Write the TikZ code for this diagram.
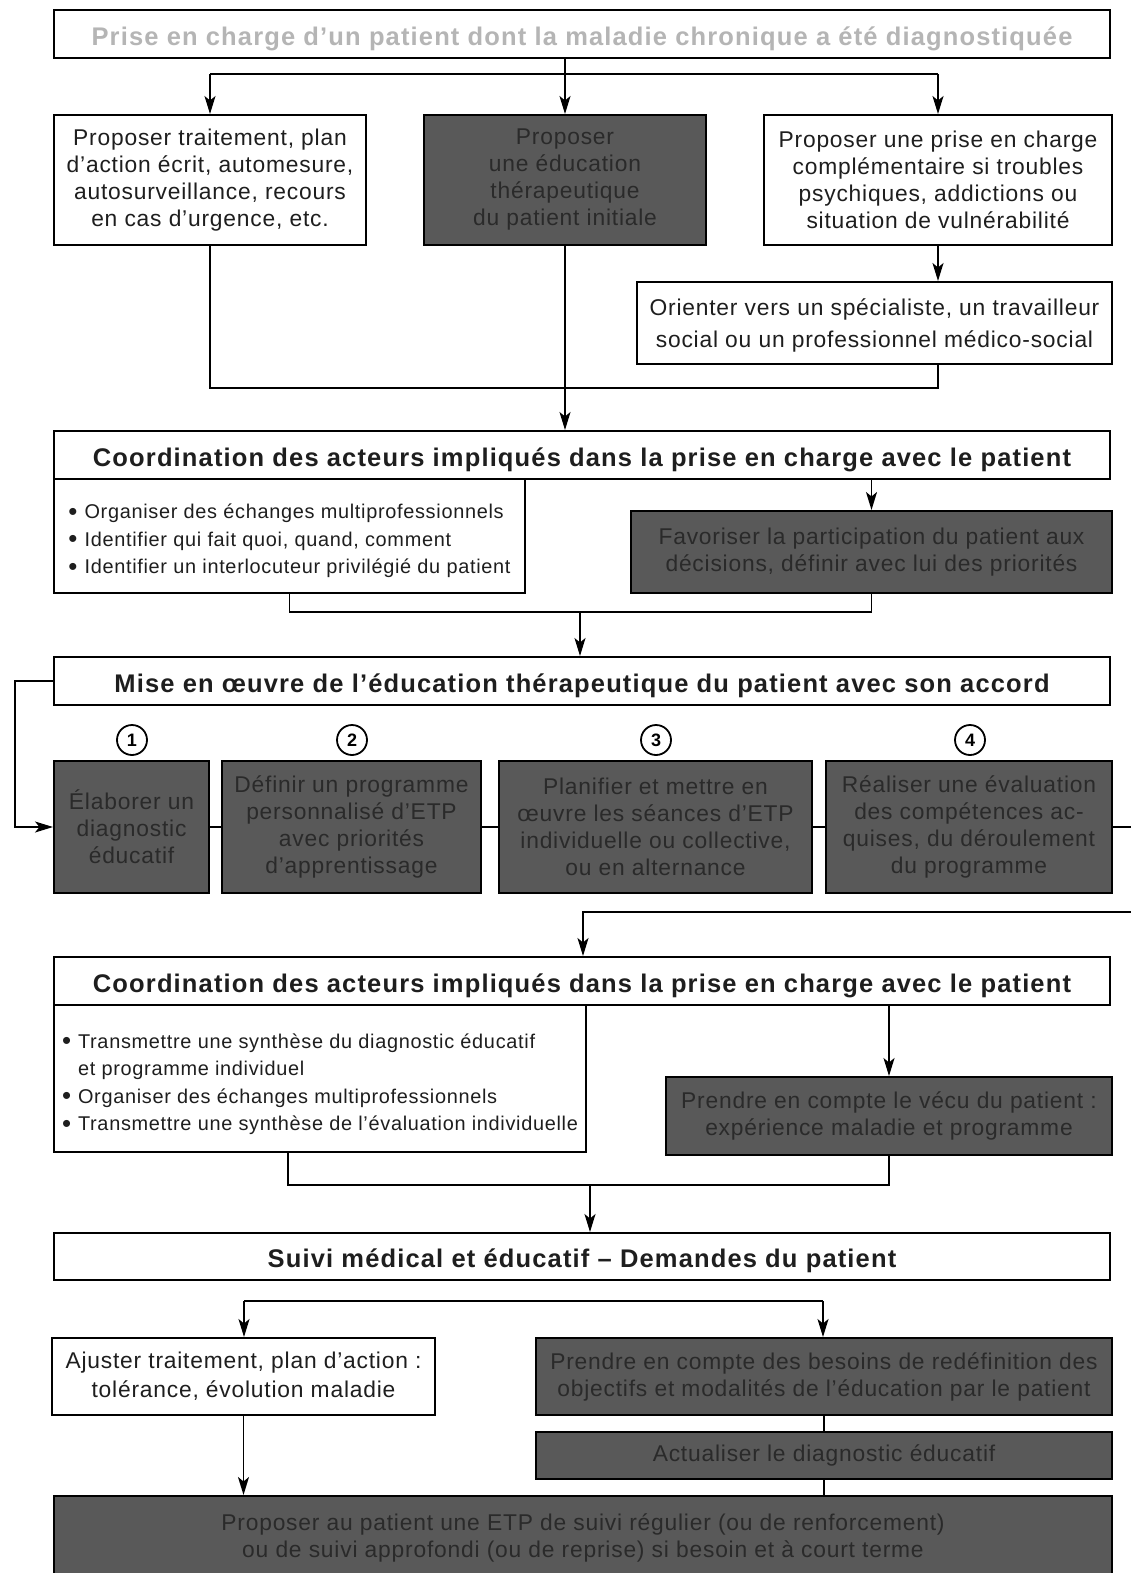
\documentclass[tikz,border=0pt]{standalone}
\usepackage{fontspec}
\setmainfont{Liberation Sans}[LetterSpace=3.5]
\newfontfamily\headf{Liberation Sans}[LetterSpace=4.5]
\newfontfamily\bulf{Liberation Sans}[LetterSpace=3.5]
\usetikzlibrary{arrows.meta,calc}
\definecolor{darkfill}{HTML}{595959}
\definecolor{darktext}{HTML}{2A2A2A}
\definecolor{headgray}{HTML}{B5B5B5}
\definecolor{ink}{HTML}{1E1E1E}
\newcommand\bulmark{\raisebox{-0.09em}{\scalebox{1.3}{\textbullet}}\hspace{7pt}}
\tikzset{
  box/.style={draw=black, line width=2pt, inner sep=0pt, align=center,
    font=\fontsize{22.8}{27}\selectfont, text=ink},
  wbox/.style={box, fill=white},
  dbox/.style={box, fill=darkfill, text=darktext},
  hbox/.style={box, fill=white, font=\headf\fontsize{25.5}{27}\selectfont\bfseries,
    text height=27.5pt, text depth=5pt},
  lbox/.style={box, fill=white, align=left, font=\bulf\fontsize{19.9}{27.5}\selectfont},
  conn/.style={line width=1.7pt},
  arr/.style={conn, -{Stealth[length=18pt,width=11pt,inset=4.5pt]}},
  num/.style={circle, draw, fill=white, line width=1.8pt, minimum size=30pt, inner sep=0pt,
    font=\fontsize{18}{18}\selectfont\bfseries}
}
\begin{document}
\begin{tikzpicture}[x=1pt,y=-1pt]
\fill[white] (0,0) rectangle (1131,1573);
\useasboundingbox (0,0) rectangle (1131,1573);

% ---- top section
\node[hbox, text=headgray, minimum width=1056pt, minimum height=48pt] (head) at (582,34)
  {Prise en charge d’un patient dont la maladie chronique a été diagnostiquée};
\node[wbox, minimum width=312pt, minimum height=130pt] (boxA) at (210,180)
  {Proposer traitement, plan\\d’action écrit, automesure,\\autosurveillance, recours\\en cas d’urgence, etc.};
\node[dbox, minimum width=282pt, minimum height=130pt] (boxB) at (565,180)
  {Proposer\\une éducation\\thérapeutique\\du patient initiale};
\node[wbox, minimum width=348pt, minimum height=130pt] (boxC) at (938,180)
  {Proposer une prise en charge\\complémentaire si troubles\\psychiques, addictions ou\\situation de vulnérabilité};
\node[wbox, minimum width=475pt, minimum height=82pt] (orient) at (874.5,323)
  {\rule{0pt}{22pt}Orienter vers un spécialiste, un travailleur\\[5pt]social ou un professionnel médico-social};

\coordinate (j1) at (565,74);
\draw[conn] (boxB.north |- head.south) -- (j1);
\draw[conn] (j1 -| boxA.north) -- (j1 -| boxC.north);
\draw[arr] (j1 -| boxA.north) -- (boxA.north);
\draw[arr] (j1) -- (boxB.north);
\draw[arr] (j1 -| boxC.north) -- (boxC.north);
\draw[arr] (boxC.south) -- (boxC.south |- orient.north);

% ---- first coordination
\node[hbox, minimum width=1056pt, minimum height=48pt] (coord1) at (582,455)
  {Coordination des acteurs impliqués dans la prise en charge avec le patient};
\node[lbox, minimum width=471pt, minimum height=114pt, text height=80pt, text depth=5pt] (bul1) at (289.5,536)
  {\bulmark Organiser des échanges multiprofessionnels\\
   \bulmark Identifier qui fait quoi, quand, comment\\
   \bulmark Identifier un interlocuteur privilégié du patient};
\node[dbox, minimum width=481pt, minimum height=82pt] (fav) at (871.5,552)
  {Favoriser la participation du patient aux\\décisions, définir avec lui des priorités};

\coordinate (j2) at (565,388);
\draw[conn] (boxA.south) |- (j2 -| boxC.south) -- (boxC.south |- orient.south);
\draw[arr] (boxB.south) -- (boxB.south |- coord1.north);
\draw[arr] (fav.north |- coord1.south) -- (fav.north);

% ---- implementation
\node[hbox, minimum width=1056pt, minimum height=48pt] (mise) at (582,681)
  {Mise en œuvre de l’éducation thérapeutique du patient avec son accord};
\coordinate (j3) at (580,612);
\draw[conn] (bul1.south) |- (j3 -| fav.south) -- (fav.south);
\draw[arr] (j3) -- (j3 |- mise.north);

\node[dbox, minimum width=155pt, minimum height=132pt] (s1) at (131.5,827)
  {Élaborer un\\diagnostic\\éducatif};
\node[dbox, minimum width=259pt, minimum height=132pt] (s2) at (351.5,827)
  {Définir un programme\\personnalisé d’ETP\\avec priorités\\d’apprentissage};
\node[dbox, minimum width=313pt, minimum height=132pt] (s3) at (655.5,827)
  {Planifier et mettre en\\œuvre les séances d’ETP\\individuelle ou collective,\\ou en alternance};
\node[dbox, minimum width=286pt, minimum height=132pt] (s4) at (969,827)
  {Réaliser une évaluation\\des compétences ac-\\quises, du déroulement\\du programme};
\node[num] (n1) at (132,740) {1};
\node[num] (n2) at (352,740) {2};
\node[num] (n3) at (656,740) {3};
\node[num] (n4) at (970,740) {4};

\draw[arr] (mise.west) -- ++(-38,0) |- (s1.west);
\draw[conn] (s1.east) -- (s2.west);
\draw[conn] (s2.east) -- (s3.west);
\draw[conn] (s3.east) -- (s4.west);
\coordinate (out4) at (1140,827);
\draw[conn] (s4.east) -- (out4);

% ---- second coordination
\node[hbox, minimum width=1056pt, minimum height=48pt] (coord2) at (582,981)
  {Coordination des acteurs impliqués dans la prise en charge avec le patient};
\coordinate (ret) at (1140,912);
\coordinate (j4) at (583,912);
\draw[arr] (ret) -- (j4) -- (j4 |- coord2.north);

\node[lbox, minimum width=532pt, minimum height=147pt, text height=109pt, text depth=5pt] (bul2) at (320,1078.5)
  {\bulmark Transmettre une synthèse du diagnostic éducatif\\
   \phantom{\bulmark}et programme individuel\\
   \bulmark Organiser des échanges multiprofessionnels\\
   \bulmark Transmettre une synthèse de l’évaluation individuelle};
\node[dbox, minimum width=446pt, minimum height=78pt] (vecu) at (889,1116)
  {Prendre en compte le vécu du patient :\\expérience maladie et programme};
\draw[arr] (vecu.north |- coord2.south) -- (vecu.north);

\node[hbox, minimum width=1056pt, minimum height=47pt] (suivi) at (582,1256.5)
  {Suivi médical et éducatif – Demandes du patient};
\coordinate (k2) at (288,1185);
\coordinate (j5) at (590,1185);
\draw[conn] (k2 |- bul2.south) -- (k2) -- (k2 -| vecu.south) -- (vecu.south);
\draw[arr] (j5) -- (j5 |- suivi.north);

% ---- follow-up
\node[wbox, minimum width=383pt, minimum height=77pt] (ajust) at (243.5,1376.5)
  {Ajuster traitement, plan d’action :\\[2pt]tolérance, évolution maladie};
\node[dbox, minimum width=576pt, minimum height=77pt] (besoins) at (824,1376.5)
  {Prendre en compte des besoins de redéfinition des\\objectifs et modalités de l’éducation par le patient};
\node[dbox, minimum width=576pt, minimum height=47pt] (actual) at (824,1455.5)
  {Actualiser le diagnostic éducatif};
\node[dbox, minimum width=1058pt, minimum height=84pt] (final) at (583,1538)
  {Proposer au patient une ETP de suivi régulier (ou de renforcement)\\ou de suivi approfondi (ou de reprise) si besoin et à court terme};

\coordinate (j6) at (244,1301);
\coordinate (j7) at (823,1301);
\draw[conn] (j6) -- (j7);
\draw[arr] (j6) -- (j6 |- ajust.north);
\draw[arr] (j7) -- (j7 |- besoins.north);
\draw[conn] (besoins.south) -- (actual.north);
\draw[conn] (actual.south) -- (actual.south |- final.north);
\draw[arr] (ajust.south) -- (ajust.south |- final.north);
\end{tikzpicture}
\end{document}
